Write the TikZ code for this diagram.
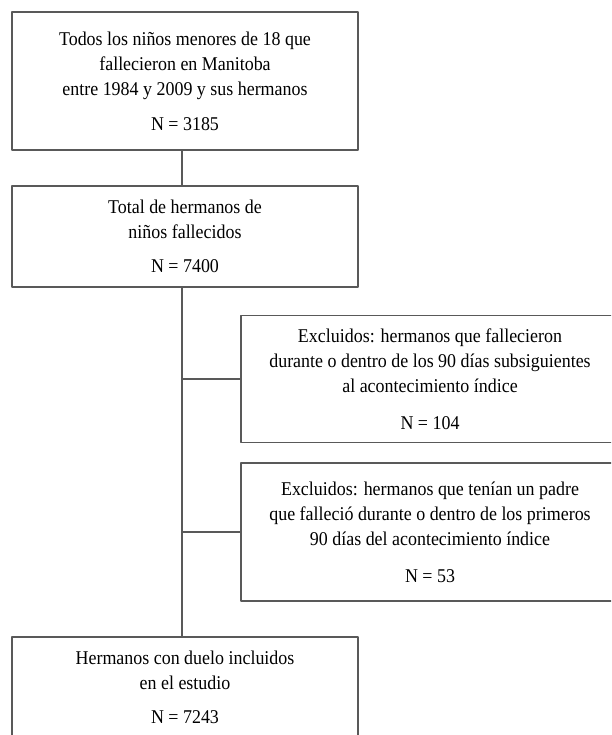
\documentclass[tikz,border=0pt]{standalone}
\usepackage{fontspec}
\setmainfont{Liberation Serif}[FakeStretch=0.92]
\begin{document}
\begin{tikzpicture}[x=1pt, y=-1pt, line join=round,
    caja/.style={draw=black!65, line width=1.1pt, inner sep=0pt, align=center,
      font=\fontsize{19.5}{25}\selectfont},
    linea/.style={draw=black!65, line width=1.1pt}]
  \useasboundingbox (0,0) rectangle (611,735);
  \clip (0,0) rectangle (611,735);
  % cajas principales
  \node[caja, minimum width=346pt, minimum height=138pt] (todos) at (185,81)
    {Todos los niños menores de 18 que\\ fallecieron en Manitoba\\ entre 1984 y 2009 y sus hermanos\\[10pt] N = 3185};
  \node[caja, minimum width=346pt, minimum height=101pt] (total) at (185,236.5)
    {Total de hermanos de\\ niños fallecidos\\[9pt] N = 7400};
  \node[caja, minimum width=346pt, minimum height=101pt] (incluidos) at (185,687.5)
    {Hermanos con duelo incluidos\\ en el estudio\\[9pt] N = 7243};
  % cajas de exclusion
  \node[caja, minimum width=378pt, minimum height=127pt] (excl-a) at (430,379)
    {Excluidos: hermanos que fallecieron\\ durante o dentro de los 90 días subsiguientes\\ al acontecimiento índice\\[12pt] N = 104};
  \node[caja, minimum width=378pt, minimum height=138pt] (excl-b) at (430,532)
    {Excluidos: hermanos que tenían un padre\\ que falleció durante o dentro de los primeros\\ 90 días del acontecimiento índice\\[12pt] N = 53};
  % conectores
  \coordinate (tronco) at (182,0);
  \draw[linea] (todos.south -| tronco) -- (total.north -| tronco);
  \draw[linea] (total.south -| tronco) -- (incluidos.north -| tronco);
  \draw[linea] (excl-a.west) -- (excl-a.west -| tronco);
  \draw[linea] (excl-b.west) -- (excl-b.west -| tronco);
\end{tikzpicture}
\end{document}
